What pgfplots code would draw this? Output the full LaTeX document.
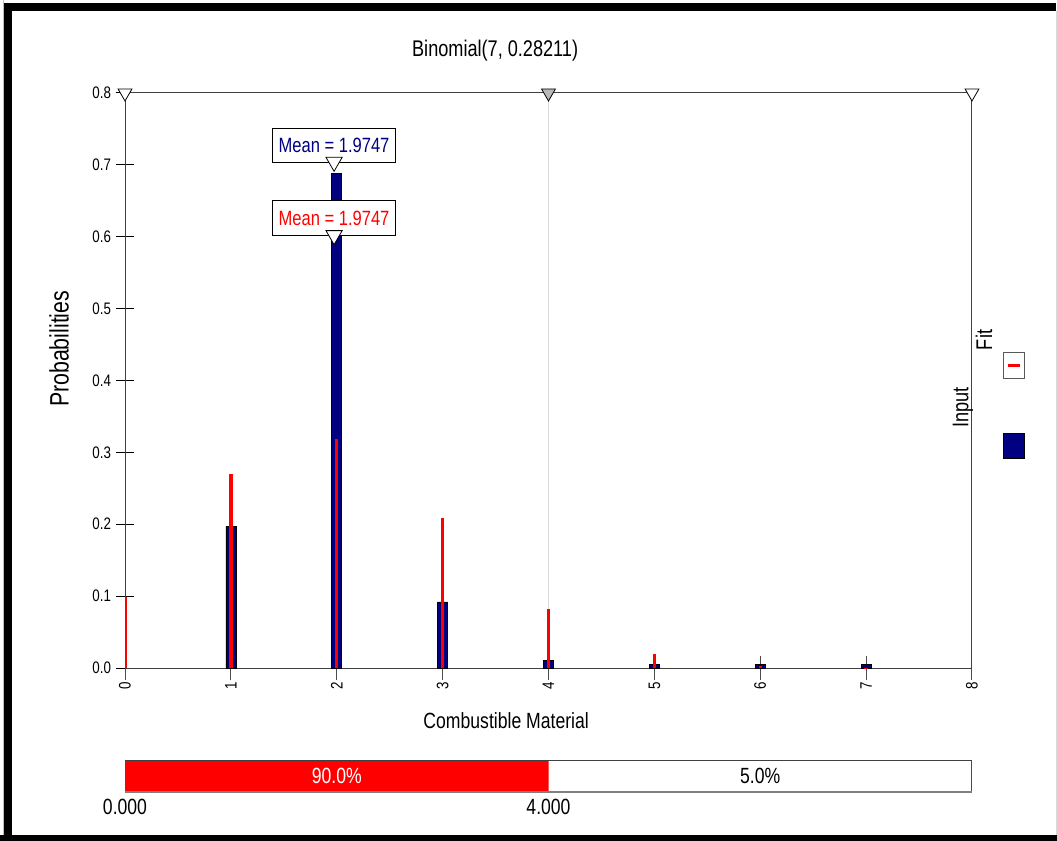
\documentclass[border=0pt]{standalone}
\usepackage{pgfplots}
\pgfplotsset{compat=1.18}
\usepackage{fontspec}
\setmainfont{Liberation Sans}[FakeStretch=0.8]
\definecolor{inputblue}{RGB}{0,0,128}
\definecolor{fitred}{RGB}{255,0,0}
\newcommand\fs[1]{\fontsize{#1}{#1}\selectfont}

\begin{document}
\begin{tikzpicture}[x=0.75pt,y=0.75pt]
\useasboundingbox (0,0) rectangle (1057,840);
\fill[white] (0,0) rectangle (1057,840);

% outer frame
\draw[gray!50, line width=0.75pt] (3.5,0) -- (3.5,840);
\draw[gray!30, line width=0.75pt] (1056,0) -- (1056,829);
\draw[black, line width=6pt] (8,-10) -- (8,833) -- (1056,833);
\draw[black, line width=6pt] (0,1) -- (1057,1);

% main chart
\begin{axis}[
  at={(93.75pt,129pt)}, anchor=south west,
  scale only axis, width=635.25pt, height=431.25pt,
  xmin=0, xmax=8, ymin=0, ymax=0.8,
  axis line style={black!75, line width=0.75pt},
  tick pos=left, tick align=center,
  xtick={0,1,2,3,4,5,6,7,8},
  ytick={0,0.1,0.2,0.3,0.4,0.5,0.6,0.7,0.8},
  major tick length=14pt,
  xtick style={/pgfplots/major tick length=18pt, black!70, line width=0.75pt},
  ytick style={black, line width=0.75pt},
  /pgf/number format/assume math mode=true,
  xticklabel style={rotate=90, anchor=east, font=\fs{12.5}},
  yticklabel style={font=\fs{12.5}, /pgf/number format/.cd, fixed, fixed zerofill, precision=1},
  title={Binomial(7, 0.28211)},
  title style={at={(axis description cs:0.437,1.059)}, anchor=center, font=\fs{17}},
  xlabel={Combustible Material},
  xlabel style={at={(axis description cs:0.45,-0.0922)}, anchor=center, font=\fs{16.5}},
  ylabel={Probabilities},
  ylabel style={at={(axis description cs:-0.0779,0.555)}, anchor=center, font=\fs{20}},
]
% 90% cutoff line
\addplot[gray!30, line width=0.9pt] coordinates {(4,0) (4,0.8)};

% input histogram
\addplot[ybar, bar width=7.5pt, bar shift=0pt, fill=inputblue, draw=black, line width=0.5pt]
  coordinates {(1,0.197) (2,0.688) (3,0.092) (4,0.010) (5,0.0045) (6,0.0045) (7,0.0045)};

% fitted binomial probabilities
\addplot[ycomb, draw=fitred, line width=2.6pt]
  coordinates {(0,0.0983) (1,0.2703) (2,0.3187) (3,0.2087) (4,0.0820) (5,0.0193) (6,0.0025) (7,0.0001)};

% slider markers along the top
\addplot[only marks, mark=triangle*, mark size=6pt,
  mark options={rotate=180, fill=white, draw=black, line width=0.6pt}]
  coordinates {(0,0.8) (8,0.8)};
\addplot[only marks, mark=triangle*, mark size=6pt,
  mark options={rotate=180, fill=gray!55, draw=black, line width=0.6pt}]
  coordinates {(4,0.8)};

% mean labels
\node[draw=black, fill=white, line width=0.5pt, minimum width=92pt, minimum height=26pt, inner sep=0pt,
  text=inputblue, font=\fs{15.5}] at (axis cs:1.9747,0.727) {Mean = 1.9747};
\node[draw=black, fill=white, line width=0.5pt, minimum width=92pt, minimum height=26pt, inner sep=0pt,
  text=fitred, font=\fs{15.5}] at (axis cs:1.9747,0.626) {Mean = 1.9747};
\addplot[only marks, mark=triangle*, mark size=7pt,
  mark options={rotate=180, fill=white, draw=black, line width=0.6pt}]
  coordinates {(1.9747,0.704) (1.9747,0.602)};
\end{axis}

% legend
\node[rotate=90, font=\fs{17}] at (963,432.5) {Input};
\node[rotate=90, font=\fs{17}] at (984,500) {Fit};
\draw[black!65, fill=white, line width=0.75pt] (1003,461) rectangle (1024,487);
\draw[fitred, line width=2.25pt] (1008,474) -- (1020,474);
\draw[black, fill=inputblue, line width=0.5pt] (1003,382) rectangle (1024,407);

% probability bar
\begin{axis}[
  at={(93.75pt,36pt)}, anchor=south west,
  scale only axis, width=635.25pt, height=24pt,
  xmin=0, xmax=8, ymin=0, ymax=1,
  axis line style={black!70, line width=0.75pt},
  ytick=\empty, xtick={0,4}, xticklabels={0.000,4.000},
  major tick length=0pt, tick pos=left,
  xticklabel style={font=\fs{16.5}, yshift=-2pt},
]
\addplot[fill=fitred, draw=none] coordinates {(0,0) (0,1) (4,1) (4,0)} \closedcycle;
\draw[black!75, line width=1.5pt] (rel axis cs:0,1) -- (rel axis cs:1,1);
\draw[black!50, line width=2.2pt] (rel axis cs:0,0) -- (rel axis cs:1,0);
\node[text=white, font=\fs{16.5}] at (axis cs:2,0.5) {90.0\%};
\node[text=black, font=\fs{16.5}] at (axis cs:6,0.5) {5.0\%};
\end{axis}
\end{tikzpicture}
\end{document}
